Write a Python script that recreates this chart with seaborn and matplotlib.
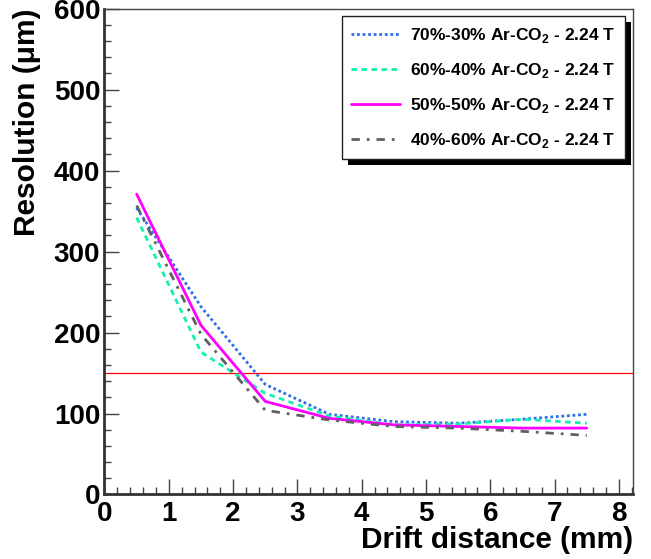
import numpy as np
import pandas as pd
import matplotlib
matplotlib.use('Agg')
import matplotlib.pyplot as plt
from matplotlib.patches import Rectangle
from matplotlib.ticker import MultipleLocator
import seaborn as sns

# Data
drift = [0.5, 1.5, 2.5, 3.5, 4.5, 5.5, 6.5, 7.5]
res_70_30 = [354, 232, 136, 99, 90, 88, 93, 99]
res_60_40 = [342, 176, 125, 97, 86, 87, 93, 88]
res_50_50 = [371, 209, 115, 94, 86, 84, 82, 82]
res_40_60 = [357, 198, 104, 92, 84, 82, 78, 73]
labels = ['70%-30% Ar-CO$_\\mathbf{2}$ - 2.24 T',
          '60%-40% Ar-CO$_\\mathbf{2}$ - 2.24 T',
          '50%-50% Ar-CO$_\\mathbf{2}$ - 2.24 T',
          '40%-60% Ar-CO$_\\mathbf{2}$ - 2.24 T']
ref_level = 150

sns.set_style('white')
plt.rcParams['font.family'] = ['Liberation Sans', 'DejaVu Sans']
plt.rcParams['font.weight'] = 'bold'
plt.rcParams['text.color'] = 'black'
plt.rcParams['axes.labelcolor'] = 'black'
plt.rcParams['mathtext.fontset'] = 'custom'
plt.rcParams['mathtext.rm'] = 'Liberation Sans:bold'
plt.rcParams['mathtext.bf'] = 'Liberation Sans:bold'

colors = ['#2f6fe8', '#14f0b0', '#ff00ff', '#606060']
styles = [(0, (1, 1)), (0, (2, 1.6)), '-', (0, (3, 2.5, 1, 2.5))]
series = [res_70_30, res_60_40, res_50_50, res_40_60]

fig = plt.figure(figsize=(6.51, 5.59), dpi=100)
ax = fig.add_axes([0.1605, 0.1154, 0.8119, 0.869])

for vals, lab, c, ls in zip(series, labels, colors, styles):
    df = pd.DataFrame({'x': drift, 'y': vals})
    sns.lineplot(data=df, x='x', y='y', ax=ax, color=c, linestyle=ls,
                 linewidth=2.0, label=lab)

ax.axhline(ref_level, color='red', linewidth=0.9, zorder=1)

ax.set_xlim(0, 8.22)
ax.set_ylim(0, 600)
ax.xaxis.set_major_locator(MultipleLocator(1))
ax.xaxis.set_minor_locator(MultipleLocator(0.2))
ax.yaxis.set_major_locator(MultipleLocator(100))
ax.yaxis.set_minor_locator(MultipleLocator(20))
ax.tick_params(which='both', direction='in', color='#444444', width=1,
               bottom=True, left=True, top=False, right=False,
               labelsize=20, labelcolor='black')
ax.tick_params(which='major', length=10.8)
ax.tick_params(which='minor', length=5.3)
ax.tick_params(axis='y', pad=3)
ax.tick_params(axis='x', pad=5)
for t in ax.get_xticklabels() + ax.get_yticklabels():
    t.set_fontweight('bold')

for side in ['left', 'bottom']:
    ax.spines[side].set_linewidth(2.0)
    ax.spines[side].set_color('#333333')
for side in ['top', 'right']:
    ax.spines[side].set_linewidth(1.0)
    ax.spines[side].set_color('#444444')

ax.set_xlabel('Drift distance (mm)', fontsize=21.5, fontweight='bold',
              ha='right', va='baseline')
ax.set_ylabel('Resolution (μm)', fontsize=21.5, fontweight='bold', ha='right')
ax.xaxis.set_label_coords(1.0, -0.110)
ax.yaxis.set_label_coords(-0.12, 1.0)

leg = ax.legend(loc='upper right', bbox_to_anchor=(0.985, 0.9846), fontsize=12.5,
                frameon=True, fancybox=False, edgecolor='#222222', framealpha=1,
                handlelength=2.8, handletextpad=0.6, labelspacing=0.92,
                borderpad=0.55, borderaxespad=0)
leg.get_frame().set_linewidth(1.0)
for t in leg.get_texts():
    t.set_fontweight('bold')
    t.set_color('black')

# ROOT-style hard black shadow behind the legend
fig.canvas.draw()
bb = leg.get_window_extent().transformed(fig.transFigure.inverted())
dx, dy = 6 / 651, 6 / 559
shadow = Rectangle((bb.x0 + dx, bb.y0 - dy), bb.width, bb.height,
                   transform=fig.transFigure, facecolor='black',
                   edgecolor='none', zorder=4)
ax.add_artist(shadow)
shadow.set_transform(fig.transFigure)
shadow.set_clip_on(False)
leg.set_zorder(5)

fig.savefig('out.png', dpi=100)
